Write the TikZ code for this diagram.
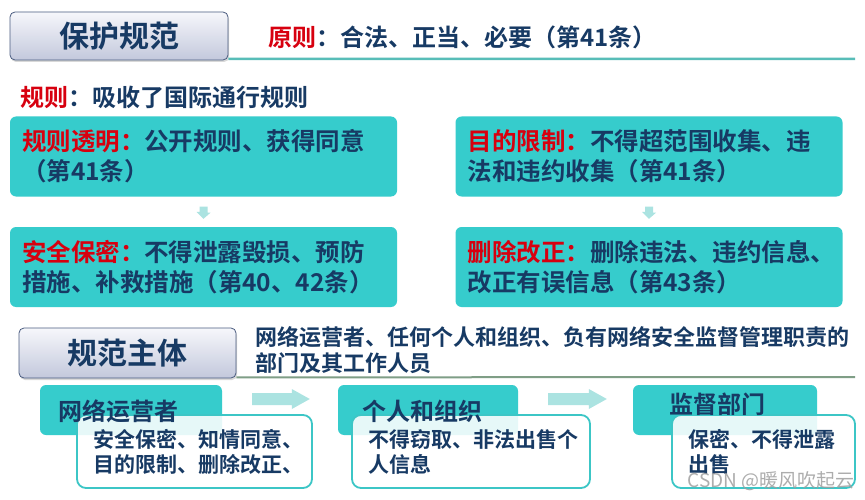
\documentclass[tikz,border=0pt]{standalone}
\usepackage{fontspec}
\setmainfont{Noto Sans CJK SC}[BoldFont={Noto Sans CJK SC Bold}]
\usetikzlibrary{shadows,calc}
\definecolor{navy}{HTML}{173A64}
\definecolor{myred}{HTML}{D7000F}
\definecolor{tealA}{HTML}{36CCCC}
\definecolor{tealB}{HTML}{3CC6C6}
\definecolor{arrowc}{HTML}{ABE3E1}
\definecolor{tabtop}{HTML}{F6F7FB}
\definecolor{tabbot}{HTML}{C3C8DC}
\definecolor{tabline}{HTML}{4A5C80}
\definecolor{lineA}{HTML}{58BDB8}
\definecolor{lineB}{HTML}{7F9E86}
\newcommand\redt[1]{\textcolor{myred}{#1}}
\begin{document}
\begin{tikzpicture}[x=1pt,y=-1pt,
  txt/.style={text=navy, font=\bfseries\fontsize{24}{28}\selectfont, inner sep=0pt},
  tealbox/.style={fill=tealA, rounded corners=6pt, minimum width=387pt, minimum height=80pt,
    text width=363pt, align=left, inner xsep=12pt, inner ysep=0pt, text=navy,
    font=\bfseries\fontsize{24.5}{30}\selectfont},
  tabbox/.style={draw=tabline, line width=0.8pt, top color=tabtop, bottom color=tabbot,
    rounded corners=5pt, drop shadow={opacity=0.3,shadow xshift=1pt,shadow yshift=-2pt},
    text=navy, font=\bfseries\fontsize{30}{34}\selectfont},
  hdr/.style={fill=tealA, rounded corners=6pt, minimum height=50pt, inner sep=0pt},
  hdrtxt/.style={text=navy, font=\bfseries\fontsize{24}{28}\selectfont, inner sep=0pt},
  wbox/.style={draw=tealB, line width=1.8pt, fill=white, fill opacity=0.88, text opacity=1,
    rounded corners=9pt, minimum height=73pt, align=left, inner xsep=16pt, inner ysep=0pt,
    text=navy, font=\bfseries\fontsize{21}{25}\selectfont},
  blockarrow/.style={fill=arrowc, draw=none}
]
\useasboundingbox (0,0) rectangle (865,500);
\fill[white] (0,0) rectangle (865,500);

% ---- top section
\node[tabbox, minimum width=218pt, minimum height=48pt] (tab1) at (119,36) {保护规范};
\coordinate (l1end) at (855,59);
\draw[lineA, line width=2.5pt] (tab1.south east) ++(0,-1.5) -- (l1end);
\node[txt, anchor=west] (p1) at (268,37) {\redt{原则}：合法、正当、必要（第41条）};
\node[txt, anchor=west] (r1) at (20,97) {\redt{规则}：吸收了国际通行规则};

\node[tealbox] (b1) at (203.5,156.5) {\redt{规则透明：}公开规则、获得同意\\（第41条）};
\node[tealbox] (b2) at (203.5,267) {\redt{安全保密：}不得泄露毁损、预防\\措施、补救措施（第40、42条）};
\node[tealbox] (b3) at (649,156.5) {\redt{目的限制：}不得超范围收集、违\\法和违约收集（第41条）};
\node[tealbox] (b4) at (649,267) {\redt{删除改正：}删除违法、违约信息、\\改正有误信息（第43条）};

% small down arrows between the boxes
\coordinate (d1s) at ($(b1.south)+(0,10)$);
\coordinate (d1e) at ($(b2.north)+(0,-8)$);
\coordinate (d2s) at ($(b3.south)+(0,10)$);
\coordinate (d2e) at ($(b4.north)+(0,-8)$);
\fill[blockarrow] (d1s) ++(-4,0) -- ++(8,0) -- ++(0,6) -- ++(3,0) -- (d1e) -- ++(-7,-7) -- ++(3,0) -- cycle;
\fill[blockarrow] (d2s) ++(-4,0) -- ++(8,0) -- ++(0,6) -- ++(3,0) -- (d2e) -- ++(-7,-7) -- ++(3,0) -- cycle;

% ---- bottom section
\node[tabbox, minimum width=217pt, minimum height=50pt] (tab2) at (127.5,353) {规范主体};
\coordinate (l2end) at (855,377);
\draw[lineB, line width=2pt] (tab2.south east) ++(0,-1) -- (l2end);
\node[txt, anchor=west, align=left, font=\bfseries\fontsize{22}{26}\selectfont] (s2) at (255,350)
  {网络运营者、任何个人和组织、负有网络安全监督管理职责的\\部门及其工作人员};

\node[hdr, minimum width=182pt] (h1) at (131,410) {};
\node[hdr, minimum width=180pt] (h2) at (428,410) {};
\node[hdr, minimum width=184pt] (h3) at (725,410) {};

\node[wbox, text width=203pt] (w1) at (194.5,451.5) {安全保密、知情同意、\\目的限制、删除改正、};
\node[wbox, text width=206pt] (w2) at (471,451.5) {不得窃取、非法出售个\\人信息};
\node[wbox, text width=151pt] (w3) at (763.5,451.5) {保密、不得泄露\\出售};

\node[hdrtxt, anchor=west] (h1t) at (58,411) {网络运营者};
\node[hdrtxt, anchor=west] (h2t) at (362,411) {个人和组织};
\node[hdrtxt, anchor=west] (h3t) at (669,404) {监督部门};

% right block arrows between the header boxes
\coordinate (a1s) at ($(h1.east)+(30,-11)$);
\coordinate (a1e) at ($(h2.west)+(-28,-11)$);
\coordinate (a2s) at ($(h2.east)+(30,-11)$);
\coordinate (a2e) at ($(h3.west)+(-26,-11)$);
\fill[blockarrow] (a1s) ++(0,-6) -- ($(a1e)+(-18,-6)$) -- ++(0,-4) -- (a1e) -- ++(-18,10) -- ++(0,-4) -- ($(a1s)+(0,6)$) -- cycle;
\fill[blockarrow] (a2s) ++(0,-6) -- ($(a2e)+(-18,-6)$) -- ++(0,-4) -- (a2e) -- ++(-18,10) -- ++(0,-4) -- ($(a2s)+(0,6)$) -- cycle;

\node[anchor=east, inner sep=0pt, text=gray!75, text opacity=0.85,
  font=\fontsize{19}{20}\selectfont] (wm) at (855,481) {CSDN @暖风吹起云};
\end{tikzpicture}
\end{document}
